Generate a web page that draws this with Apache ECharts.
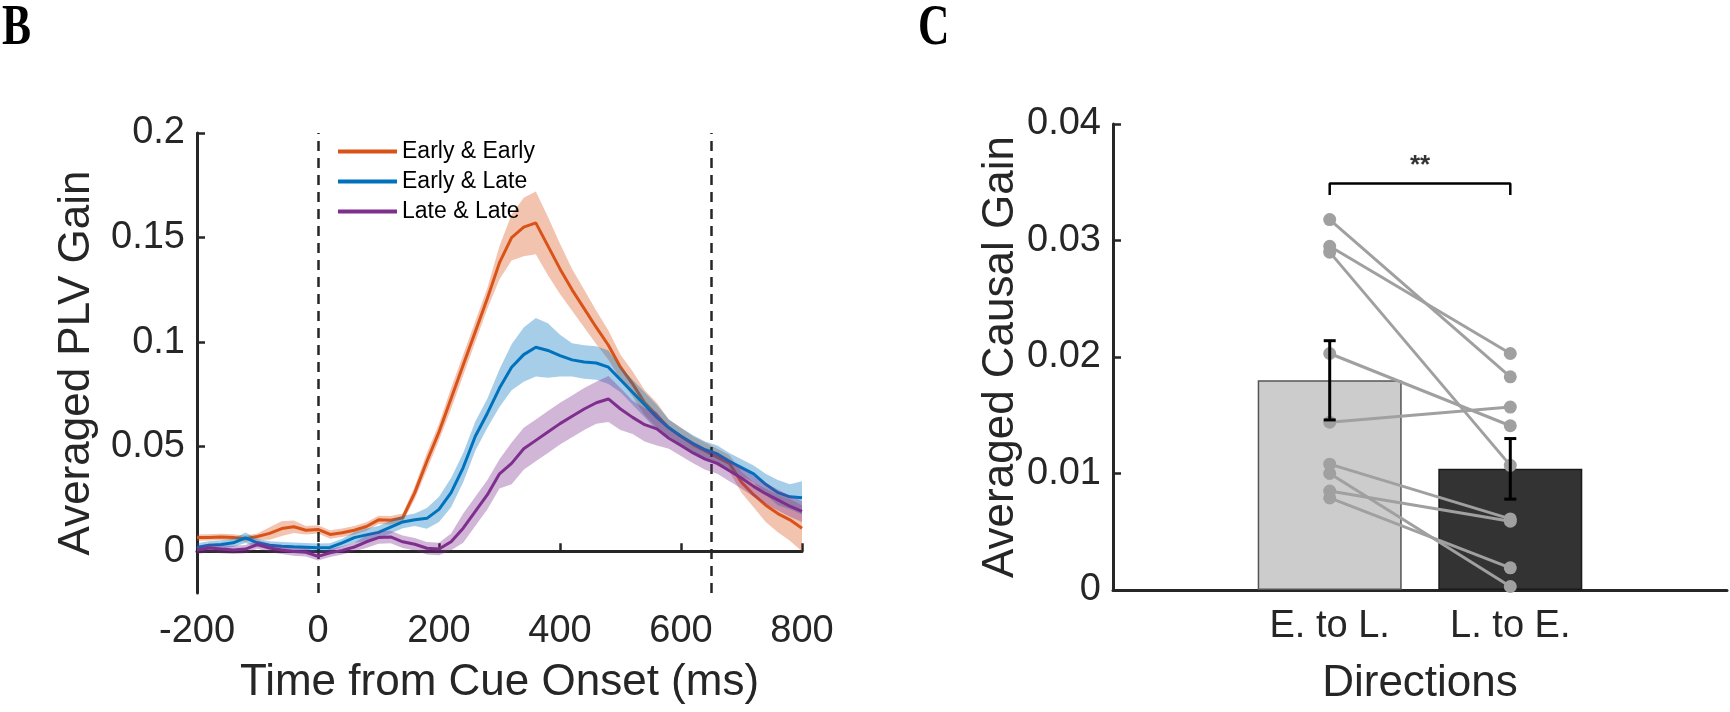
<!DOCTYPE html>
<html>
<head>
<meta charset="utf-8">
<script src="https://cdn.jsdelivr.net/npm/echarts@6.0.0/dist/echarts.min.js"></script>
<style>
html,body{margin:0;padding:0;background:#fff;}
#chart{width:1730px;height:712px;}
</style>
</head>
<body>
<div id="chart"></div>
<script>
// ---------- Panel B data ----------
const timeMs = [-200,-180,-160,-140,-120,-100,-80,-60,-40,-20,0,20,40,60,80,100,120,140,160,180,200,220,240,260,280,300,320,340,360,380,400,420,440,460,480,500,520,540,560,580,600,620,640,660,680,700,720,740,760,780,800];
const seriesNames = ['Early & Early','Early & Late','Late & Late'];
const earlyEarly = [0.0065,0.0066,0.0068,0.0066,0.0060,0.0070,0.0085,0.0108,0.0117,0.0100,0.0104,0.0080,0.0088,0.0100,0.0118,0.0150,0.0148,0.0160,0.0280,0.0430,0.0570,0.0730,0.0890,0.1050,0.1210,0.1380,0.1500,0.1550,0.1570,0.1460,0.1350,0.1250,0.1160,0.1070,0.0985,0.0880,0.0800,0.0710,0.0650,0.0590,0.0550,0.0510,0.0480,0.0450,0.0420,0.0330,0.0270,0.0220,0.0180,0.0150,0.0110];
const earlyEarlySem = [0.0015,0.0015,0.0015,0.0015,0.0015,0.0015,0.0030,0.0035,0.0030,0.0020,0.0020,0.0020,0.0020,0.0020,0.0020,0.0020,0.0020,0.0020,0.0030,0.0040,0.0040,0.0050,0.0050,0.0050,0.0050,0.0080,0.0110,0.0140,0.0150,0.0140,0.0120,0.0100,0.0090,0.0080,0.0070,0.0060,0.0060,0.0060,0.0060,0.0040,0.0040,0.0040,0.0040,0.0040,0.0040,0.0050,0.0060,0.0080,0.0090,0.0100,0.0110];
const earlyLate = [0.0018,0.0028,0.0032,0.0040,0.0064,0.0040,0.0028,0.0024,0.0021,0.0019,0.0017,0.0018,0.0040,0.0065,0.0078,0.0090,0.0115,0.0140,0.0150,0.0157,0.0200,0.0280,0.0400,0.0550,0.0660,0.0780,0.0880,0.0940,0.0975,0.0960,0.0935,0.0915,0.0905,0.0900,0.0880,0.0820,0.0760,0.0700,0.0640,0.0590,0.0550,0.0515,0.0485,0.0465,0.0430,0.0400,0.0370,0.0320,0.0280,0.0260,0.0255];
const earlyLateSem = [0.0020,0.0020,0.0020,0.0020,0.0025,0.0020,0.0020,0.0020,0.0020,0.0020,0.0020,0.0020,0.0020,0.0025,0.0030,0.0030,0.0030,0.0030,0.0030,0.0050,0.0060,0.0070,0.0070,0.0070,0.0070,0.0090,0.0110,0.0130,0.0140,0.0130,0.0100,0.0080,0.0080,0.0080,0.0080,0.0060,0.0060,0.0060,0.0060,0.0040,0.0040,0.0040,0.0040,0.0040,0.0040,0.0040,0.0040,0.0050,0.0060,0.0060,0.0080];
const lateLate = [0.0006,0.0015,0.0010,0.0006,0.0010,0.0032,0.0015,0.0006,-0.0002,-0.0005,-0.0025,-0.0008,0.0004,0.0020,0.0045,0.0065,0.0068,0.0045,0.0033,0.0014,0.0010,0.0045,0.0110,0.0190,0.0270,0.0370,0.0420,0.0490,0.0530,0.0570,0.0610,0.0645,0.0680,0.0710,0.0728,0.0680,0.0640,0.0605,0.0585,0.0540,0.0505,0.0470,0.0440,0.0420,0.0385,0.0350,0.0310,0.0275,0.0245,0.0215,0.0190];
const lateLateSem = [0.0020,0.0020,0.0020,0.0020,0.0020,0.0020,0.0020,0.0020,0.0020,0.0020,0.0020,0.0020,0.0020,0.0020,0.0030,0.0030,0.0030,0.0030,0.0030,0.0030,0.0030,0.0040,0.0070,0.0070,0.0070,0.0070,0.0100,0.0100,0.0100,0.0100,0.0100,0.0100,0.0100,0.0100,0.0110,0.0100,0.0080,0.0080,0.0080,0.0050,0.0050,0.0050,0.0050,0.0050,0.0050,0.0050,0.0050,0.0050,0.0050,0.0050,0.0050];
const xTicksB = [-200,0,200,400,600,800];
const yTicksB = [0,0.05,0.1,0.15,0.2];
const cueMarkers = [0,650];

// ---------- Panel C data ----------
const directions = ['E. to L.','L. to E.'];
const directionPos = [1,2];
const barMeans = [0.0180,0.0104];
const barSem = [0.0034,0.0026];
const subjEtoL = [0.0318,0.0295,0.0290,0.0203,0.0144,0.0108,0.0100,0.0085,0.0079];
const subjLtoE = [0.0183,0.0203,0.0107,0.0141,0.0157,0.0061,0.0003,0.0059,0.0019];
const yTicksC = [0,0.01,0.02,0.03,0.04];
const sigBracket = {x1:1, x2:2, yLow:0.0339, yHigh:0.0349, textY:0.0364, text:'**'};

// ---------- styling ----------
const FONT = '"Liberation Sans", Arial, sans-serif';
const SERIF = '"Liberation Serif", "Times New Roman", serif';
const AX = '#262626';
const TICK_FS = 38, TITLE_FS = 44;
const colors = ['#D95319','#0072BD','#7E2F8E'];
const means = [earlyEarly, earlyLate, lateLate];
const sems = [earlyEarlySem, earlyLateSem, lateLateSem];

const series = [];
means.forEach((m, k) => {
  const s = sems[k];
  series.push({
    type:'custom', xAxisIndex:0, yAxisIndex:0, z: 2 + k*2, silent:true,
    data:[[timeMs[0], m[0]]],
    renderItem: function(params, api){
      const up = [], lo = [];
      for (let i=0;i<timeMs.length;i++){
        up.push(api.coord([timeMs[i], m[i]+s[i]]));
        lo.push(api.coord([timeMs[i], m[i]-s[i]]));
      }
      return {type:'polygon', shape:{points: up.concat(lo.reverse())},
              style:{fill: colors[k], opacity:0.35}};
    }
  });
  series.push({
    name: seriesNames[k], type:'line', xAxisIndex:0, yAxisIndex:0, z: 3 + k*2,
    symbol:'none', showSymbol:false, animation:false,
    data: timeMs.map((t,i)=>[t, m[i]]),
    lineStyle:{color: colors[k], width:3}, itemStyle:{color: colors[k]}
  });
});
// dashed markers
series.push({
  type:'line', xAxisIndex:0, yAxisIndex:0, data:[], z:10, silent:true,
  markLine:{symbol:'none', silent:true, animation:false, label:{show:false},
    lineStyle:{color:'#262626', type:[10,7], width:2.5},
    data: cueMarkers.map(v=>({xAxis:v}))}
});

// Panel C bars
series.push({
  type:'bar', xAxisIndex:1, yAxisIndex:1, barWidth:144, z:2, animation:false,
  data: barMeans.map((v,i)=>({value:[directionPos[i], v],
    itemStyle:{color: i===0 ? '#CCCCCC' : '#333333', borderColor: i===0 ? '#555555' : '#1a1a1a', borderWidth:1.5}}))
});
// subject lines
subjEtoL.forEach((v,i)=>{
  series.push({
    type:'line', xAxisIndex:1, yAxisIndex:1, z:4, animation:false, silent:true,
    data:[[directionPos[0], v],[directionPos[1], subjLtoE[i]]],
    symbol:'circle', symbolSize:13, showSymbol:true,
    lineStyle:{color:'#A0A0A0', width:3}, itemStyle:{color:'#A0A0A0'}
  });
});
// error bars
series.push({
  type:'custom', xAxisIndex:1, yAxisIndex:1, z:6, silent:true,
  data: barMeans.map((v,i)=>[directionPos[i], v - barSem[i], v + barSem[i]]),
  renderItem: function(params, api){
    const x = api.value(0);
    const lo = api.coord([x, api.value(1)]);
    const hi = api.coord([x, api.value(2)]);
    const w = 6;
    const st = {stroke:'#000', lineWidth:3};
    return {type:'group', children:[
      {type:'line', shape:{x1:lo[0], y1:lo[1], x2:hi[0], y2:hi[1]}, style:st},
      {type:'line', shape:{x1:lo[0]-w, y1:lo[1], x2:lo[0]+w, y2:lo[1]}, style:st},
      {type:'line', shape:{x1:hi[0]-w, y1:hi[1], x2:hi[0]+w, y2:hi[1]}, style:st}
    ]};
  }
});
// significance bracket
series.push({
  type:'line', xAxisIndex:1, yAxisIndex:1, z:6, silent:true, animation:false, symbol:'none',
  data:[[sigBracket.x1, sigBracket.yLow],[sigBracket.x1, sigBracket.yHigh],[sigBracket.x2, sigBracket.yHigh],[sigBracket.x2, sigBracket.yLow]],
  lineStyle:{color:'#000', width:2.5}
});
series.push({
  type:'scatter', xAxisIndex:1, yAxisIndex:1, z:6, silent:true, symbolSize:0,
  data:[[(sigBracket.x1+sigBracket.x2)/2, sigBracket.textY]],
  label:{show:true, position:'inside', formatter: sigBracket.text, color:'#000', fontSize:26, fontWeight:'bold', fontFamily:FONT}
});

const chart = echarts.init(document.getElementById('chart'), null, {renderer:'canvas'});
chart.setOption({
  backgroundColor:'#ffffff',
  animation:false,
  textStyle:{fontFamily:FONT},
  grid:[
    {left:197, top:133, width:605, height:460},
    {left:1113, top:124, width:614, height:466}
  ],
  legend:{
    data: seriesNames, orient:'vertical', left:333, top:134,
    icon:'rect', itemWidth:59, itemHeight:4, itemGap:5,
    textStyle:{fontSize:23, color:'#000', fontFamily:FONT, lineHeight:25}
  },
  xAxis:[
    {type:'value', gridIndex:0, min:-200, max:800, interval:200,
     name:'Time from Cue Onset (ms)', nameLocation:'middle', nameGap:68,
     nameTextStyle:{fontSize:TITLE_FS, color:AX, fontFamily:FONT},
     axisLine:{lineStyle:{color:AX, width:3}},
     axisTick:{inside:true, length:8, lineStyle:{color:AX, width:2.5}, customValues:xTicksB},
     axisLabel:{fontSize:TICK_FS, color:AX, margin:20, fontFamily:FONT, customValues:xTicksB},
     splitLine:{show:false}},
    {type:'value', gridIndex:1, min:-0.2, max:3.2,
     name:'Directions', nameLocation:'middle', nameGap:72,
     nameTextStyle:{fontSize:TITLE_FS, color:AX, fontFamily:FONT},
     axisLine:{onZero:false, lineStyle:{color:AX, width:3}},
     axisTick:{show:false},
     axisLabel:{fontSize:TICK_FS, color:AX, margin:18, fontFamily:FONT, customValues:directionPos,
       formatter:function(v){ const i = directionPos.indexOf(v); return i>=0 ? directions[i] : ''; }},
     splitLine:{show:false}}
  ],
  yAxis:[
    {type:'value', gridIndex:0, min:-0.02, max:0.2,
     name:'Averaged PLV Gain', nameLocation:'middle', nameGap:98,
     nameTextStyle:{fontSize:TITLE_FS, color:AX, fontFamily:FONT},
     axisLine:{show:true, onZero:false, lineStyle:{color:AX, width:3}},
     axisTick:{show:true, inside:true, length:8, lineStyle:{color:AX, width:2.5}, customValues:yTicksB},
     axisLabel:{fontSize:TICK_FS, color:AX, margin:12, fontFamily:FONT, customValues:yTicksB},
     splitLine:{show:false}},
    {type:'value', gridIndex:1, min:0, max:0.04, interval:0.01,
     name:'Averaged Causal Gain', nameLocation:'middle', nameGap:90,
     nameTextStyle:{fontSize:TITLE_FS, color:AX, fontFamily:FONT},
     axisLine:{show:true, onZero:false, lineStyle:{color:AX, width:3}},
     axisTick:{show:true, inside:true, length:8, lineStyle:{color:AX, width:2.5}, customValues:yTicksC},
     axisLabel:{fontSize:TICK_FS, color:AX, margin:12, fontFamily:FONT, customValues:yTicksC},
     splitLine:{show:false}}
  ],
  graphic:[
    {type:'text', x:2, y:0, scaleX:0.75, style:{text:'B', fontSize:58, fontWeight:'bold', fontFamily:SERIF, fill:'#000'}},
    {type:'text', x:918, y:0, scaleX:0.75, style:{text:'C', fontSize:58, fontWeight:'bold', fontFamily:SERIF, fill:'#000'}}
  ],
  series: series
});
</script>
</body>
</html>
